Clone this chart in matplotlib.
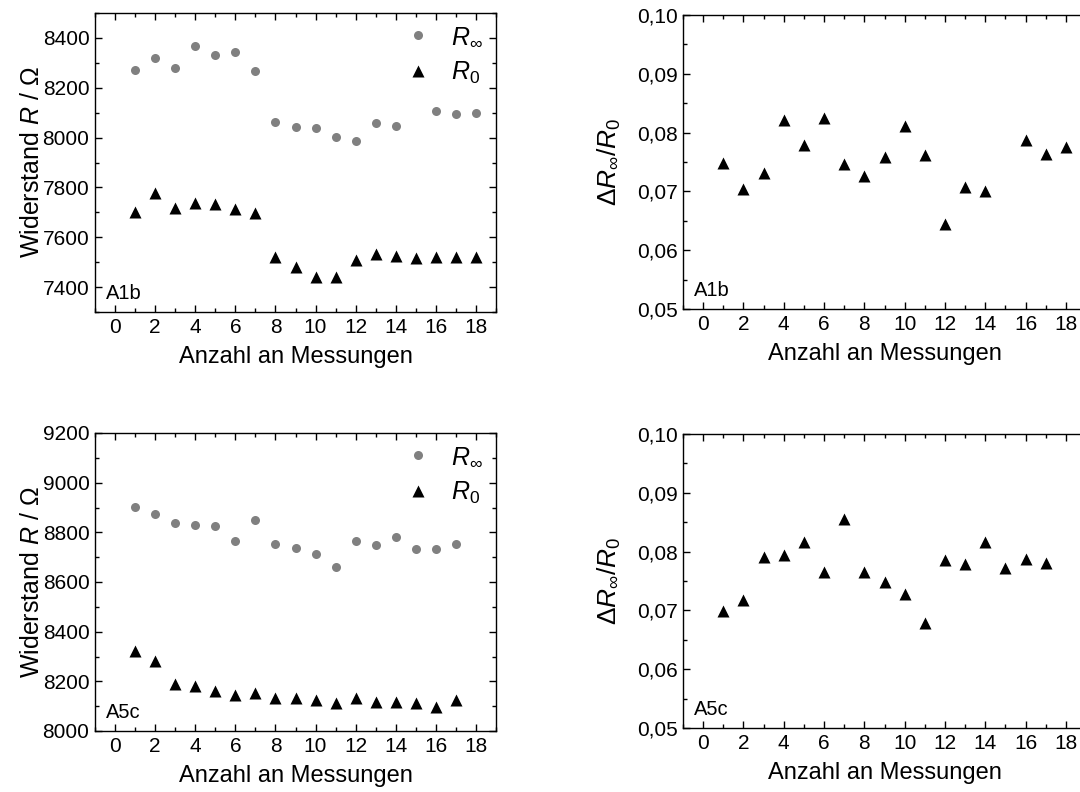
import matplotlib
matplotlib.use('Agg')
import matplotlib.pyplot as plt
from matplotlib.ticker import MultipleLocator, FuncFormatter

# Probe A1b: R0 for all 18 measurements, R_inf (and ratio) missing at no. 15
mess_a1b = list(range(1, 19))
r0_a1b = [7700, 7777, 7719, 7737, 7733, 7713, 7697, 7521, 7480, 7440,
          7440, 7507, 7533, 7525, 7515, 7519, 7521, 7521]
mess_a1b_inf = [1, 2, 3, 4, 5, 6, 7, 8, 9, 10, 11, 12, 13, 14, 16, 17, 18]
rinf_a1b = [8273, 8321, 8279, 8369, 8331, 8345, 8269, 8064, 8044, 8040,
            8002, 7985, 8060, 8048, 8108, 8095, 8099]
dr_a1b = [0.0749, 0.0704, 0.0732, 0.0821, 0.0779, 0.0824, 0.0747, 0.0727, 0.0759,
          0.0811, 0.0762, 0.0644, 0.0707, 0.0700, 0.0787, 0.0764, 0.0776]

# Probe A5c: 17 measurements
mess_a5c = list(range(1, 18))
rinf_a5c = [8901, 8873, 8836, 8828, 8826, 8764, 8848, 8754, 8737, 8713,
            8662, 8767, 8748, 8780, 8733, 8733, 8754]
r0_a5c = [8322, 8282, 8191, 8180, 8160, 8143, 8153, 8134, 8132, 8124,
          8114, 8132, 8117, 8118, 8112, 8098, 8124]
dr_a5c = [0.0699, 0.0717, 0.0791, 0.0795, 0.0817, 0.0765, 0.0856, 0.0765, 0.0748,
          0.0728, 0.0679, 0.0785, 0.0779, 0.0817, 0.0772, 0.0787, 0.0781]

plt.rcParams['font.family'] = ['Liberation Sans', 'DejaVu Sans']
plt.rcParams['mathtext.fontset'] = 'custom'
plt.rcParams['mathtext.rm'] = 'Liberation Sans'
plt.rcParams['mathtext.it'] = 'Liberation Sans:italic'
plt.rcParams['axes.linewidth'] = 1.0

W, H = 1080, 792
fig = plt.figure(figsize=(W / 100, H / 100), dpi=100)

# axes in pixel boxes (left, top, right, bottom) -> figure fractions
def box(l, t, r, b):
    return [l / W, 1 - b / H, (r - l) / W, (b - t) / H]

ax1 = fig.add_axes(box(95, 13, 496, 312))
ax2 = fig.add_axes(box(683, 15, 1086, 309))
ax3 = fig.add_axes(box(95, 433, 496, 731))
ax4 = fig.add_axes(box(683, 434, 1086, 728))

grey = '#808080'
xlab = 'Anzahl an Messungen'

# left: resistance
for ax, xi, yi, x0, y0, lim, name in [
        (ax1, mess_a1b_inf, rinf_a1b, mess_a1b, r0_a1b, (7300, 8500), 'A1b'),
        (ax3, mess_a5c, rinf_a5c, mess_a5c, r0_a5c, (8000, 9200), 'A5c')]:
    ax.plot(xi, yi, 'o', color=grey, ms=6.5, mec='none', label=r'$R_\infty$')
    ax.plot(x0, y0, '^', color='black', ms=8, mec='none', label=r'$R_0$')
    ax.set_ylim(lim)
    ax.yaxis.set_major_locator(MultipleLocator(200))
    ax.yaxis.set_minor_locator(MultipleLocator(100))
    ax.set_ylabel(r'Widerstand $R$ / Ω', fontsize=18)
    ax.yaxis.set_label_coords(-0.128, 0.5)
    ax.legend(loc='upper left', bbox_to_anchor=(0.75, 0.995), frameon=False,
              fontsize=18, handlelength=1.0, handletextpad=0.8, labelspacing=0.45,
              borderaxespad=0)
    ax.text(0.027, 0.045, name, transform=ax.transAxes, fontsize=14.5, va='baseline')
    ax.tick_params(which='both', right=True)

# right: relative change (right edge runs off the picture)
comma = FuncFormatter(lambda v, p: f'{v:.2f}'.replace('.', ','))
for ax, x, y, name in [(ax2, mess_a1b_inf, dr_a1b, 'A1b'), (ax4, mess_a5c, dr_a5c, 'A5c')]:
    ax.plot(x, y, '^', color='black', ms=8, mec='none')
    ax.set_ylim(0.05, 0.10)
    ax.yaxis.set_major_locator(MultipleLocator(0.01))
    ax.yaxis.set_minor_locator(MultipleLocator(0.005))
    ax.yaxis.set_major_formatter(comma)
    ax.set_ylabel(r'$\Delta R_\infty/R_0$', fontsize=19)
    ax.yaxis.set_label_coords(-0.148, 0.5)
    ax.text(0.027, 0.045, name, transform=ax.transAxes, fontsize=14.5, va='baseline')
    ax.tick_params(which='both', right=False)

for ax in [ax1, ax2, ax3, ax4]:
    ax.set_xlim(-1, 19)
    ax.xaxis.set_major_locator(MultipleLocator(2))
    ax.xaxis.set_minor_locator(MultipleLocator(1))
    ax.tick_params(which='both', direction='in', top=True,
                   labelsize=15, width=1.0, pad=4)
    ax.tick_params(which='major', length=5)
    ax.tick_params(which='minor', length=3)
    ax.set_xlabel(xlab, fontsize=17, labelpad=7)

plt.savefig('out.png', dpi=100)
